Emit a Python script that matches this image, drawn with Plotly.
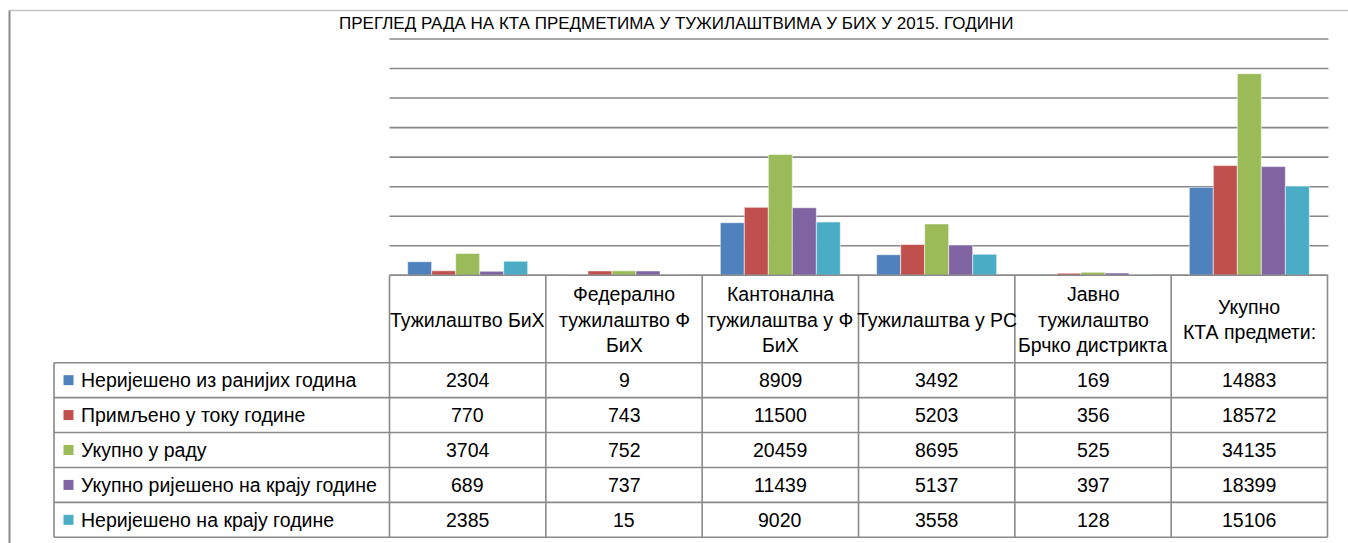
import plotly.graph_objects as go

# ---------------- data ----------------
title_text = "ПРЕГЛЕД РАДА НА КТА ПРЕДМЕТИМА У ТУЖИЛАШТВИМА У БИХ У 2015. ГОДИНИ"
categories = ["Тужилаштво БиХ", "Федерално тужилаштво Ф БиХ", "Кантонална тужилаштва у Ф БиХ",
              "Тужилаштва у РС", "Јавно тужилаштво Брчко дистрикта", "Укупно КТА предмети:"]
header_lines = [["Тужилаштво БиХ"], ["Федерално", "тужилаштво Ф", "БиХ"],
                ["Кантонална", "тужилаштва у Ф", "БиХ"], ["Тужилаштва у РС"],
                ["Јавно", "тужилаштво", "Брчко дистрикта"], ["Укупно", "КТА предмети:"]]
series_names = ["Неријешено из ранијих година", "Примљено у току године", "Укупно у раду",
                "Укупно ријешено на крају године", "Неријешено на крају године"]
unresolved_prev = [2304, 9, 8909, 3492, 169, 14883]
received = [770, 743, 11500, 5203, 356, 18572]
total_in_work = [3704, 752, 20459, 8695, 525, 34135]
resolved = [689, 737, 11439, 5137, 397, 18399]
unresolved_end = [2385, 15, 9020, 3558, 128, 15106]
series_values = [unresolved_prev, received, total_in_work, resolved, unresolved_end]
colors = ["#4F81BD", "#C0504D", "#9BBB59", "#8064A2", "#4BACC6"]
y_max, y_step = 40000, 5000
grid_values = list(range(0, y_max + 1, y_step))

# ---------------- layout geometry (pixels) ----------------
W, H = 1348, 543
plot_left, plot_right = 389.5, 1327.5
plot_top, baseline = 39.0, 275.3
header_bottom, table_bottom = 362.7, 537.3
table_left = 54.0
n_cat = len(categories)
col_w = (plot_right - plot_left) / n_cat
row_h = (table_bottom - header_bottom) / len(series_names)
header_h = (header_bottom - baseline) / row_h
legend_w = (plot_left - table_left) / col_w
line_sp = 25.5 / row_h
y_pad = 1.02
dom_top_px = baseline - (baseline - plot_top) * y_pad

def ux(px):
    return (px - plot_left) / col_w - 0.5

def uy(px):
    return (header_bottom - px) / row_h

FONT = "Liberation Sans, Arial, sans-serif"
FS = 19.5
LINE_C = "#8a8a8a"
GRID_C = "#878787"

fig = go.Figure()

# bars
for name, vals, c in zip(series_names, series_values, colors):
    fig.add_trace(go.Bar(x=categories, y=vals, name=name, marker_color=c,
                         marker_line_color="rgba(255,255,255,0.55)", marker_line_width=1,
                         xaxis="x", yaxis="y", showlegend=False))

# table grid lines
n_rows = len(series_names)
xs, ys = [], []
left_edge = -0.5 - legend_w
right_edge = n_cat - 0.5
xs += [-0.5, right_edge, None]; ys += [header_h, header_h, None]
for r in range(n_rows + 1):
    xs += [left_edge, right_edge, None]; ys += [-r, -r, None]
for c in range(n_cat + 1):
    xs += [c - 0.5, c - 0.5, None]; ys += [-n_rows, header_h, None]
xs += [left_edge, left_edge, None]; ys += [-n_rows, 0, None]
fig.add_trace(go.Scatter(x=xs, y=ys, mode="lines", line=dict(color=LINE_C, width=1.6),
                         xaxis="x2", yaxis="y2", showlegend=False, hoverinfo="skip"))

# legend squares
sq_x = ux(68.5)
fig.add_trace(go.Scatter(x=[sq_x] * n_rows, y=[-(r + 0.5) for r in range(n_rows)], mode="markers",
                         marker=dict(symbol="square", size=10, color=colors, line_width=0),
                         xaxis="x2", yaxis="y2", showlegend=False, hoverinfo="skip"))

annotations = []
for r, name in enumerate(series_names):
    annotations.append(dict(x=ux(79), y=-(r + 0.5), xref="x2", yref="y2", text=name,
                            showarrow=False, xanchor="left", yanchor="middle",
                            font=dict(family=FONT, size=FS, color="#000")))
for r, vals in enumerate(series_values):
    for c, v in enumerate(vals):
        annotations.append(dict(x=c, y=-(r + 0.5), xref="x2", yref="y2", text=str(v),
                                showarrow=False, xanchor="center", yanchor="middle",
                                font=dict(family=FONT, size=FS, color="#000")))
hc = uy(319.5)
for c, lines in enumerate(header_lines):
    n = len(lines)
    for k, t in enumerate(lines):
        annotations.append(dict(x=c, y=hc + ((n - 1) / 2 - k) * line_sp, xref="x2", yref="y2",
                                text=t, showarrow=False, xanchor="center", yanchor="middle",
                                font=dict(family=FONT, size=FS, color="#000")))
annotations.append(dict(x=676 / W, y=1 - 12 / H, xref="paper", yref="paper", text=title_text,
                        showarrow=False, xanchor="center", yanchor="top",
                        font=dict(family=FONT, size=17, color="#000")))

shapes = [
    dict(type="line", xref="paper", yref="paper", x0=9.5 / W, x1=1.01, y0=1 - 10.5 / H, y1=1 - 10.5 / H,
         line=dict(color="#c4c4c4", width=1.5)),
    dict(type="line", xref="paper", yref="paper", x0=9.5 / W, x1=9.5 / W, y0=1 - 10.5 / H, y1=-0.01,
         line=dict(color="#8a8a8a", width=2)),
]
# value gridlines (drawn below the bars, on the y scale)
for gv in grid_values:
    shapes.append(dict(type="line", xref="x domain", yref="y", x0=0, x1=1.001, y0=gv, y1=gv,
                       layer="below", line=dict(color=GRID_C, width=1.6)))

fig.update_layout(
    width=W, height=H, margin=dict(l=0, r=0, t=0, b=0),
    paper_bgcolor="white", plot_bgcolor="rgba(0,0,0,0)",
    barmode="group", bargap=0.232, bargroupgap=0,
    xaxis=dict(domain=[plot_left / W, plot_right / W], type="category", range=[-0.5, n_cat - 0.5],
               showticklabels=False, showgrid=False, zeroline=False, showline=False, ticks=""),
    yaxis=dict(domain=[1 - baseline / H, 1 - dom_top_px / H], range=[0, y_max * y_pad],
               showticklabels=False, showgrid=False, zeroline=False, showline=False, ticks=""),
    xaxis2=dict(domain=[0, 1], range=[ux(0), ux(W)], anchor="y2", visible=False),
    yaxis2=dict(domain=[0, 1], range=[uy(H), uy(0)], anchor="x2", visible=False),
    annotations=annotations, shapes=shapes, hovermode=False,
)

fig.write_html("out.html", config={"displayModeBar": False},
               post_script="document.body.style.margin='0';document.body.style.overflow='hidden';")
